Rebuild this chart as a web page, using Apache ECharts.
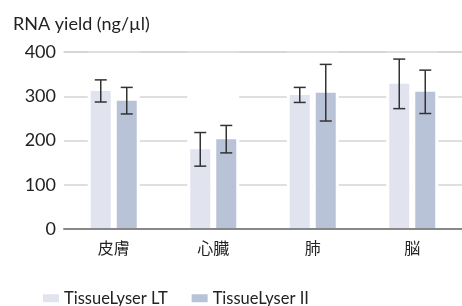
<!DOCTYPE html>
<html>
<head>
<meta charset="utf-8">
<script src="https://cdn.jsdelivr.net/npm/echarts@6/dist/echarts.min.js"></script>
<style>
  html, body { margin: 0; padding: 0; background: #fff; }
  #main { width: 462px; height: 306px; }
</style>
</head>
<body>
<div id="main"></div>
<script>
// data
var categories = ['皮膚', '心臓', '肺', '脳'];
var seriesNames = ['TissueLyser LT', 'TissueLyser II'];
var ltMean = [312, 180, 303, 328];
var ltErr = [25, 38, 17, 56];
var iiMean = [290, 203, 308, 310];
var iiErr = [30, 31, 64, 49];
var yTicks = [0, 100, 200, 300, 400];

var FONT = 'Lato, "Noto Sans CJK JP", sans-serif';
var BAR_W = 20;
var OFFSET = 13; // half of bar width + half of gap

function errData(mean, err) {
    return mean.map(function (m, i) { return [i, m - err[i], m + err[i]]; });
}

function errRender(sign) {
    return function (params, api) {
        var lo = api.coord([api.value(0), api.value(1)]);
        var hi = api.coord([api.value(0), api.value(2)]);
        var x = lo[0] + sign * OFFSET;
        var cap = 6;
        var st = { stroke: '#333', lineWidth: 1.5 };
        return {
            type: 'group',
            children: [
                { type: 'line', shape: { x1: x, y1: lo[1], x2: x, y2: hi[1] }, style: st },
                { type: 'line', shape: { x1: x - cap, y1: lo[1], x2: x + cap, y2: lo[1] }, style: st },
                { type: 'line', shape: { x1: x - cap, y1: hi[1], x2: x + cap, y2: hi[1] }, style: st }
            ]
        };
    };
}

var chart = echarts.init(document.getElementById('main'));

// white backdrop behind each bar hides the grid lines there
var bgStyle = { color: '#fff', borderColor: '#fff', borderWidth: 6 };

chart.setOption({
    animation: false,
    textStyle: { fontFamily: FONT },
    title: {
        text: 'RNA yield (ng/µl)',
        left: 8,
        top: 10,
        textStyle: { fontFamily: FONT, fontSize: 18, fontWeight: 'normal', color: '#222' }
    },
    legend: {
        data: seriesNames,
        left: 38,
        top: 285,
        itemWidth: 16,
        itemHeight: 8,
        itemGap: 24,
        icon: 'rect',
        textStyle: { fontFamily: FONT, fontSize: 16.5, color: '#222' }
    },
    grid: { left: 64, right: -10, top: 52, bottom: 77 },
    xAxis: [{
        type: 'category',
        data: categories,
        z: 10,
        axisLine: { lineStyle: { color: '#888', width: 2 } },
        axisTick: { show: false },
        axisLabel: { fontFamily: FONT, fontSize: 16, color: '#222', margin: 12 }
    }, {
        type: 'category',
        data: categories,
        position: 'top',
        z: 10,
        axisLine: { lineStyle: { color: '#d4d4d4', width: 1.5 } },
        axisTick: { show: false },
        axisLabel: { show: false }
    }],
    yAxis: {
        type: 'value',
        min: yTicks[0],
        max: yTicks[yTicks.length - 1],
        interval: 100,
        axisLine: { show: false },
        axisTick: { show: false },
        axisLabel: { fontFamily: FONT, fontSize: 18, color: '#222', margin: 8 },
        splitLine: { lineStyle: { color: '#d4d4d4', width: 1.5 } }
    },
    series: [{
        name: seriesNames[0],
        type: 'bar',
        data: ltMean,
        barWidth: BAR_W,
        barGap: '30%',
        itemStyle: { color: '#e1e4ef' },
        showBackground: true,
        backgroundStyle: bgStyle
    }, {
        name: seriesNames[1],
        type: 'bar',
        data: iiMean,
        barWidth: BAR_W,
        barGap: '30%',
        itemStyle: { color: '#b8c3d8' },
        showBackground: true,
        backgroundStyle: bgStyle
    }, {
        type: 'custom',
        name: 'errLT',
        data: errData(ltMean, ltErr),
        renderItem: errRender(-1),
        encode: { x: 0, y: [1, 2] },
        z: 5,
        silent: true
    }, {
        type: 'custom',
        name: 'errII',
        data: errData(iiMean, iiErr),
        renderItem: errRender(1),
        encode: { x: 0, y: [1, 2] },
        z: 5,
        silent: true
    }]
});
</script>
</body>
</html>
